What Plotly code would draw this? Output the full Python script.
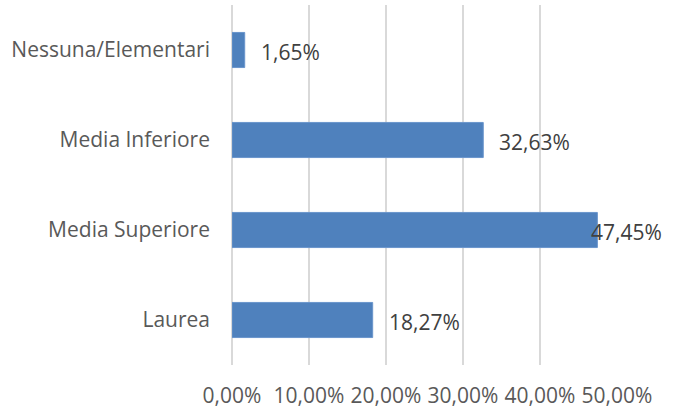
import plotly.graph_objects as go

# data (bottom to top, as plotly draws categories)
categories = ["Laurea", "Media Superiore", "Media Inferiore", "Nessuna/Elementari"]
shares = [0.1827, 0.4745, 0.3263, 0.0165]
tick_vals = [0, 0.1, 0.2, 0.3, 0.4, 0.5]

FONT = "Open Sans"
BAR = "#4F81BD"
GRID = "#D9D9D9"

fig = go.Figure(go.Bar(
    x=shares, y=categories, orientation="h",
    marker=dict(color=BAR, line=dict(color="#6A95CC", width=1)),
    width=0.39, hoverinfo="skip"))

# data labels "outside end", pushed back inside when they would overflow
for cat, v in zip(categories, shares):
    lab = f"{v:.2%}".replace(".", ",")
    fig.add_annotation(x=v, y=cat, text=lab, showarrow=False,
                       xanchor="left", yanchor="middle",
                       xshift=14 if v < 0.45 else -8, yshift=-2,
                       font=dict(family=FONT, size=21, color="#404040"))

fig.update_layout(
    width=676, height=408,
    margin=dict(l=232, r=59, t=5, b=43),
    paper_bgcolor="white", plot_bgcolor="white",
    separators=",.",
    showlegend=False,
    font=dict(family=FONT, size=21, color="#595959"),
)
fig.update_xaxes(range=[0, 0.5], tickvals=tick_vals, tickformat=".2%",
                 showgrid=True, gridcolor=GRID, gridwidth=1.5,
                 zeroline=True, zerolinecolor=GRID, zerolinewidth=1.5,
                 showline=False, ticks="", ticklabelstandoff=16,
                 automargin=False,
                 tickfont=dict(family=FONT, size=21, color="#595959"))
fig.update_yaxes(showgrid=False, zeroline=False, showline=False, ticks="",
                 ticklabelstandoff=21, automargin=False,
                 tickfont=dict(family=FONT, size=21, color="#595959"))

# page body has a default 8px margin; drop it so the chart sits at 0,0
fig.write_html("out.html", config={"displayModeBar": False},
               post_script="document.body.style.margin='0';")
